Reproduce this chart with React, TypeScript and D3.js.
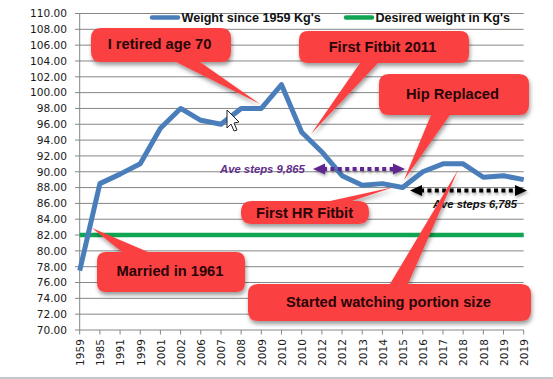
import React from "react";
import * as d3 from "d3";

const W = 553, H = 379;
const categories = ["1959","1985","1991","1999","2001","2002","2006","2007","2008","2009","2010","2010","2012","2012","2013","2014","2015","2016","2017","2018","2018","2019","2019"];
const weight = [77.5,88.5,89.7,91,95.5,98,96.5,96,98,98,101,95,92.5,89.5,88.3,88.5,88,90,91,91,89.3,89.5,89];
const desired = categories.map(() => 82);
const yTicks = d3.range(70, 110.01, 2);
const seriesNames = ["Weight since 1959 Kg's", "Desired weight in Kg's"];
const seriesColors = ["#4a7ebb", "#0fa552"];
const FONT = "Liberation Sans, Arial, sans-serif";
const BODY = "'DejaVu Sans', Verdana, sans-serif";

const x = d3.scalePoint<number>().domain(categories.map((_, i) => i)).range([79.7, 523.7]);
const y = d3.scaleLinear().domain([70, 110]).range([330, 13.5]);

type Callout = { text: string; x0: number; x1: number; y0: number; y1: number; r: number; tip: [number, number]; base: [number, number]; side: "top" | "bottom"; fs: number; tx?: number; ty?: number };
const callouts: Callout[] = [
  { text: "First HR Fitbit", x0: 241, x1: 369, y0: 201, y1: 224, r: 11, tip: [394, 187], base: [330, 352], side: "top", fs: 14.7, tx: 304.5, ty: 212.5 },
  { text: "Married in 1961", x0: 97, x1: 245, y0: 252, y1: 292, r: 9, tip: [92, 228], base: [122, 148], side: "top", fs: 14.7, tx: 170, ty: 270.5 },
  { text: "I retired age 70", x0: 91, x1: 231, y0: 28, y1: 62, r: 10, tip: [260, 104], base: [176, 200], side: "bottom", fs: 14.7, tx: 159.5, ty: 43.5 },
  { text: "First Fitbit 2011", x0: 299, x1: 469, y0: 31, y1: 63, r: 9, tip: [311, 134], base: [360, 378], side: "bottom", fs: 14.7, tx: 382.5, ty: 46.5 },
  { text: "Hip Replaced", x0: 379, x1: 529, y0: 74, y1: 115, r: 10, tip: [404, 180], base: [431, 450], side: "bottom", fs: 14.7, tx: 452.5, ty: 94 },
  { text: "Started watching portion size", x0: 248, x1: 531, y0: 284, y1: 321, r: 10, tip: [458, 170], base: [390, 408], side: "top", fs: 14.7, tx: 388.5, ty: 302 },
];

function calloutPath(c: Callout) {
  const p = d3.path();
  const { x0, x1, y0, y1, r, tip, base, side } = c;
  p.moveTo(x0 + r, y0);
  if (side === "top") { p.lineTo(base[0], y0); p.lineTo(tip[0], tip[1]); p.lineTo(base[1], y0); }
  p.lineTo(x1 - r, y0);
  p.quadraticCurveTo(x1, y0, x1, y0 + r);
  p.lineTo(x1, y1 - r);
  p.quadraticCurveTo(x1, y1, x1 - r, y1);
  if (side === "bottom") { p.lineTo(base[1], y1); p.lineTo(tip[0], tip[1]); p.lineTo(base[0], y1); }
  p.lineTo(x0 + r, y1);
  p.quadraticCurveTo(x0, y1, x0, y1 - r);
  p.lineTo(x0, y0 + r);
  p.quadraticCurveTo(x0, y0, x0 + r, y0);
  p.closePath();
  return p.toString();
}

function DottedArrow({ x0, x1, yy, color }: { x0: number; x1: number; yy: number; color: string }) {
  const head = 10;
  return (
    <g filter="url(#arrowShadow)">
      <line x1={x0 + head} x2={x1 - head} y1={yy} y2={yy} stroke={color} strokeWidth={4} strokeDasharray="4 3.4" />
      <path d={`M${x0},${yy}L${x0 + head + 2},${yy - 5.5}L${x0 + head + 2},${yy + 5.5}Z`} fill={color} />
      <path d={`M${x1},${yy}L${x1 - head - 2},${yy - 5.5}L${x1 - head - 2},${yy + 5.5}Z`} fill={color} />
    </g>
  );
}

export default function App() {
  const line = d3.line<number>().x((_, i) => x(i)!).y((d) => y(d));
  return (
    <svg width={W} height={H} style={{ position: "fixed", left: 0, top: 0, background: "#fff" }}>
      <defs>
        <filter id="shadow" x="-20%" y="-30%" width="140%" height="170%">
          <feDropShadow dx="1" dy="3" stdDeviation="2" floodColor="#000" floodOpacity="0.4" />
        </filter>
        <filter id="arrowShadow" x="-10%" y="-100%" width="120%" height="300%">
          <feDropShadow dx="1" dy="2" stdDeviation="1.5" floodColor="#000" floodOpacity="0.35" />
        </filter>
      </defs>
      <rect x={0} y={377} width={W} height={2} fill="#c4c8cc" />
      {yTicks.map((t) => (
        <g key={t}>
          <line x1={75} x2={t === 70 ? 79.7 : 523.7} y1={y(t)} y2={y(t)} stroke="#868686" strokeWidth={1} />
          <text x={67} y={y(t)} dy="0.36em" textAnchor="end" fontFamily={BODY} fontSize={10.6} fill="#1a1a1a">{t.toFixed(2)}</text>
        </g>
      ))}
      <line x1={79.7} x2={523.7} y1={330} y2={330} stroke="#868686" />
      <line x1={79.7} x2={79.7} y1={13.5} y2={330} stroke="#868686" />
      {categories.map((c, i) => (
        <g key={i}>
          <line x1={x(i)} x2={x(i)} y1={330} y2={334.5} stroke="#868686" />
          <text transform={`translate(${x(i)! + 0.5},366) rotate(-90)`} x={0} y={0} dy="0.36em" fontFamily={BODY} fontSize={10.6} fill="#1a1a1a">{c}</text>
        </g>
      ))}
      <path d={line(desired)!} fill="none" stroke={seriesColors[1]} strokeWidth={4.5} />
      <path d={line(weight)!} fill="none" stroke={seriesColors[0]} strokeWidth={5} strokeLinejoin="round" />
      <line x1={152} x2={178} y1={17.5} y2={17.5} stroke={seriesColors[0]} strokeWidth={4.5} strokeLinecap="round" />
      <text x={181.5} y={17.5} dy="0.36em" fontFamily={FONT} fontSize={12.6} fontWeight={700} fill="#111">{seriesNames[0]}</text>
      <line x1={346} x2={372} y1={17.5} y2={17.5} stroke={seriesColors[1]} strokeWidth={4.5} strokeLinecap="round" />
      <text x={375.5} y={17.5} dy="0.36em" fontFamily={FONT} fontSize={12.6} fontWeight={700} fill="#111">{seriesNames[1]}</text>

      <path d="M227,110L227,128L231,124L234,131L237,130L234,123L239,122Z" fill="#fff" stroke="#222" strokeWidth={1} />

      <text x={220} y={169} dy="0.36em" fontFamily={FONT} fontSize={11.3} fontStyle="italic" fontWeight={700} fill="#5f2d8a">Ave steps 9,865</text>
      <DottedArrow x0={313} x1={405} yy={169} color="#60268f" />
      <DottedArrow x0={410} x1={527} yy={190.5} color="#000" />
      <text x={433} y={203.5} dy="0.36em" fontFamily={FONT} fontSize={11.2} fontStyle="italic" fontWeight={700} fill="#111">Ave steps 6,785</text>

      {callouts.map((c) => (
        <g key={c.text}>
          <path d={calloutPath(c)} fill="#fb4143" filter="url(#shadow)" />
          <text x={c.tx} y={c.ty} dy="0.36em" textAnchor="middle" fontFamily={FONT} fontSize={c.fs} fontWeight={700} fill="#2a0508">{c.text}</text>
        </g>
      ))}
    </svg>
  );
}
